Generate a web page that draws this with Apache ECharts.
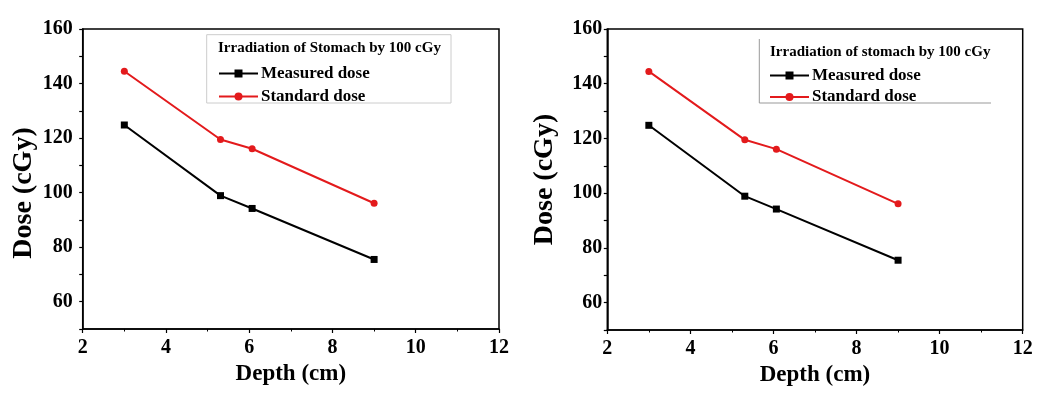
<!DOCTYPE html>
<html>
<head>
<meta charset="utf-8">
<script src="https://cdn.jsdelivr.net/npm/echarts@6/dist/echarts.min.js"></script>
<style>
html,body{margin:0;padding:0;background:#fff;}
#chart{width:1052px;height:399px;}
</style>
</head>
<body>
<div id="chart"></div>
<script>
// Data
const depth = [3, 5.31, 6.07, 9];
const measuredLeft = [124.8, 98.9, 94.2, 75.5];
const standardLeft = [144.5, 119.5, 116.1, 96.1];
const measuredRight = [124.8, 98.9, 94.2, 75.5];
const standardRight = [144.5, 119.5, 116.1, 96.1];
const yTickLabels = ['60', '80', '100', '120', '140', '160'];
const legendTitleLeft = 'Irradiation of Stomach by 100 cGy';
const legendTitleRight = 'Irradiation of stomach by 100 cGy';
const seriesNames = ['Measured dose', 'Standard dose'];
const xName = 'Depth (cm)';
const yName = 'Dose (cGy)';

const FONT = '"Liberation Serif", "Times New Roman", serif';
const RED = '#e31a1c';

function pairs(xs, ys) { return xs.map((x, i) => [x, ys[i]]); }

function xAxis(gridIndex) {
  return {
    type: 'value', gridIndex, min: 2, max: 12, interval: 2,
    name: xName, nameLocation: 'middle', nameGap: 34,
    nameTextStyle: { fontFamily: FONT, fontWeight: 'bold', fontSize: 23, color: '#000' },
    axisLine: { show: true, onZero: false, lineStyle: { color: '#000', width: 1.5 } },
    axisTick: { show: true, inside: false, length: 4, lineStyle: { color: '#000', width: 1.2 } },
    minorTick: { show: true, splitNumber: 2, length: 2.5, lineStyle: { color: '#000', width: 1 } },
    axisLabel: { fontFamily: FONT, fontWeight: 'bold', fontSize: 20, color: '#000', margin: 9 },
    splitLine: { show: false }
  };
}
function yAxis(gridIndex, labelMargin, nameGap, namePad) {
  return {
    type: 'value', gridIndex, min: 50, max: 160, interval: 10,
    name: yName, nameLocation: 'middle', nameGap: nameGap, nameRotate: 90,
    nameTextStyle: { fontFamily: FONT, fontWeight: 'bold', fontSize: 28, color: '#000', padding: namePad },
    axisLine: { show: true, onZero: false, lineStyle: { color: '#000', width: 1.5 } },
    axisTick: { show: true, inside: false, length: 3.5, lineStyle: { color: '#000', width: 1.2 } },
    axisLabel: { fontFamily: FONT, fontWeight: 'bold', fontSize: 20, color: '#000', margin: labelMargin,
      formatter: v => yTickLabels.indexOf(String(v)) >= 0 ? String(v) : '' },
    splitLine: { show: false }
  };
}
function lineSeries(name, data, idx, color, symbol) {
  return {
    type: 'line', name, data, xAxisIndex: idx, yAxisIndex: idx,
    symbol, symbolSize: 7, showSymbol: true,
    lineStyle: { color, width: 2 }, itemStyle: { color },
    animation: false
  };
}
function legend(left, top, gap) {
  return {
    data: seriesNames, left, top, orient: 'vertical', itemWidth: 39, itemHeight: 10, itemGap: gap,
    padding: 0, selectedMode: false,
    textStyle: { fontFamily: FONT, fontWeight: 'bold', fontSize: 17, color: '#000', lineHeight: 14, padding: [0, 0, 0, -2] }
  };
}

const chart = echarts.init(document.getElementById('chart'), null, { renderer: 'canvas' });
chart.setOption({
  backgroundColor: '#fff',
  animation: false,
  grid: [
    { left: 82.7, top: 29, width: 416.3, height: 300, show: true, borderColor: '#000', borderWidth: 1.5, containLabel: false },
    { left: 607.3, top: 29, width: 415.4, height: 301, show: true, borderColor: '#000', borderWidth: 1.5, containLabel: false }
  ],
  xAxis: [xAxis(0), xAxis(1)],
  yAxis: [yAxis(0, 10, 45, [0, 28, 0, 0]), yAxis(1, 5, 49, 0)],
  title: [
    { text: legendTitleLeft, left: 218, top: 41, padding: 0,
      textStyle: { fontFamily: FONT, fontWeight: 'bold', fontSize: 15, color: '#000' } },
    { text: legendTitleRight, left: 770, top: 45, padding: 0,
      textStyle: { fontFamily: FONT, fontWeight: 'bold', fontSize: 15, color: '#000' } }
  ],
  legend: [legend(218, 65, 6), legend(769, 67, 4.5)],
  graphic: [
    { type: 'rect', shape: { x: 206.7, y: 34.7, width: 244.3, height: 68.3 }, silent: true,
      style: { fill: 'none', stroke: '#cccccc', lineWidth: 1 } },
    { type: 'polyline', shape: { points: [[759.3, 39], [759.3, 103], [991, 103]] }, silent: true,
      style: { fill: 'none', stroke: '#999999', lineWidth: 1 } }
  ],
  series: [
    lineSeries(seriesNames[0], pairs(depth, measuredLeft), 0, '#000', 'rect'),
    lineSeries(seriesNames[1], pairs(depth, standardLeft), 0, RED, 'circle'),
    lineSeries(seriesNames[0], pairs(depth, measuredRight), 1, '#000', 'rect'),
    lineSeries(seriesNames[1], pairs(depth, standardRight), 1, RED, 'circle')
  ]
});
</script>
</body>
</html>
